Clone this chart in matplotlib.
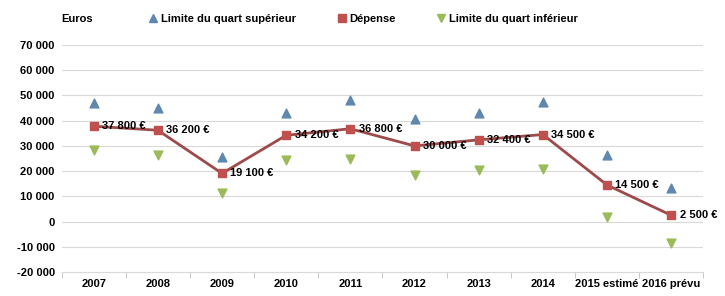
import matplotlib
matplotlib.use("Agg")
import matplotlib.pyplot as plt
from matplotlib.lines import Line2D

plt.rcParams['font.family'] = ['Liberation Sans Narrow', 'Liberation Sans', 'DejaVu Sans']
plt.rcParams['font.weight'] = 'bold'
plt.rcParams['font.stretch'] = 'condensed'

years = ['2007', '2008', '2009', '2010', '2011', '2012', '2013', '2014',
         '2015 estimé', '2016 prévu']
depense = [37800, 36200, 19100, 34200, 36800, 30000, 32400, 34500, 14500, 2500]
depense_labels = ['37 800 €', '36 200 €', '19 100 €', '34 200 €', '36 800 €',
                  '30 000 €', '32 400 €', '34 500 €', '14 500 €', '2 500 €']
quart_sup = [47000, 45000, 25500, 43000, 48000, 40500, 43000, 47500, 26500, 13500]
quart_inf = [28500, 26500, 11500, 24500, 25000, 18500, 20500, 21000, 2000, -8500]
yticks = [-20000, -10000, 0, 10000, 20000, 30000, 40000, 50000, 60000, 70000]
ytick_labels = ['-20 000', '-10 000', '0', '10 000', '20 000', '30 000',
                '40 000', '50 000', '60 000', '70 000']

blue = '#5f87b0'
red = '#c0504d'
line_col = '#9e4a4a'
green = '#9bbb59'
fs = 8

fig = plt.figure(figsize=(7.25, 2.96), dpi=100)
ax = fig.add_axes([0.085, 0.081, 0.885, 0.767])

x = list(range(len(years)))

ax.plot(x, depense, color=line_col, lw=2, zorder=3)
ax.scatter(x, depense, marker='s', s=36, color=red, zorder=4)
ax.scatter(x, quart_sup, marker='^', s=40, color=blue, zorder=4)
ax.scatter(x, quart_inf, marker='v', s=40, color=green, zorder=4)

for xi, yi, lab in zip(x, depense, depense_labels):
    ax.annotate(lab, (xi, yi), xytext=(6, 0), textcoords='offset points',
                va='center', ha='left', fontsize=fs, fontweight='bold')

ax.set_xlim(-0.5, 9.5)
ax.set_ylim(-20000, 70000)
ax.set_yticks(yticks)
ax.set_yticklabels(ytick_labels, fontsize=fs, fontweight='bold')
ax.set_xticks(x)
ax.set_xticklabels(years, fontsize=fs, fontweight='bold')
ax.set_xticks([i + 0.5 for i in range(-1, len(years))], minor=True)
ax.tick_params(axis='both', which='major', length=0, pad=5)
ax.tick_params(axis='x', which='minor', length=4, color='#bfbfbf')
ax.grid(axis='y', color='#d9d9d9', lw=0.8)
ax.set_axisbelow(True)
for s in ['top', 'right', 'left']:
    ax.spines[s].set_visible(False)
ax.spines['bottom'].set_color('#d9d9d9')

fig.text(0.085, 0.935, 'Euros', fontsize=fs, fontweight='bold', va='center')
handles = [
    Line2D([], [], marker='^', color=blue, ls='none', markersize=6),
    Line2D([], [], marker='s', color=red, ls='none', markersize=6),
    Line2D([], [], marker='v', color=green, ls='none', markersize=6),
]
fig.legend(handles, ['Limite du quart supérieur', 'Dépense', 'Limite du quart inférieur'],
           loc='center left', bbox_to_anchor=(0.19, 0.935), ncol=3, frameon=False,
           fontsize=fs, handletextpad=0.2, columnspacing=3.6, handlelength=1)

fig.savefig('out.png', dpi=100)
